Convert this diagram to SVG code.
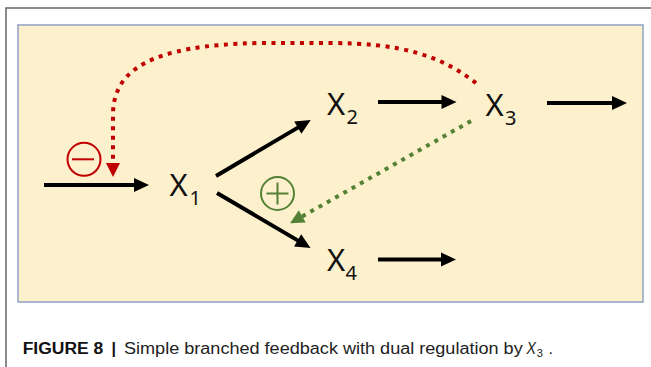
<svg xmlns="http://www.w3.org/2000/svg" width="651" height="367" viewBox="0 0 651 367">
  <style>
    .frame { fill: none; stroke: #666666; stroke-width: 1.5; }
    .panel { fill: #fdf0cc; stroke: #8ea2c2; stroke-width: 1.5; }
    .label { font-family: "Noto Sans", "Open Sans", sans-serif; font-size: 31px; fill: #111111; }
    .sub { font-size: 20px; }
    .flow { fill: none; stroke: #000000; stroke-width: 4; }
    .inhib { fill: none; stroke: #c00000; stroke-width: 4; stroke-dasharray: 4 5.5; }
    .activ { fill: none; stroke: #538135; stroke-width: 4; stroke-dasharray: 4 5.5; }
    .sign-red { fill: none; stroke: #c00000; stroke-width: 2; }
    .sign-green { fill: none; stroke: #538135; stroke-width: 2; }
    .caption { font-family: "Liberation Sans", Arial, sans-serif; font-size: 16px; fill: #222222; }
  </style>
  <defs>
    <marker id="head-black" markerUnits="userSpaceOnUse" viewBox="-4 -8 18 16" markerWidth="18" markerHeight="16" refX="0" refY="0" orient="auto">
      <path d="M-3,-7 L12,0 L-3,7 z" fill="#000000"/>
    </marker>
    <marker id="head-red" markerUnits="userSpaceOnUse" viewBox="-4 -8 18 16" markerWidth="18" markerHeight="16" refX="0" refY="0" orient="auto">
      <path d="M-2,-7 L12,0 L-2,7 z" fill="#c00000"/>
    </marker>
    <marker id="head-green" markerUnits="userSpaceOnUse" viewBox="-4 -8 18 16" markerWidth="18" markerHeight="16" refX="0" refY="0" orient="auto">
      <path d="M-2,-7 L12,0 L-2,7 z" fill="#538135"/>
    </marker>
  </defs>

  <!-- page frame -->
  <path class="frame" d="M6,367 L6,8 L651,8"/>

  <!-- figure panel -->
  <rect class="panel" x="18" y="25" width="625" height="277"/>

  <!-- connectors -->
  <g id="connectors">
    <line class="flow" x1="44" y1="185" x2="137" y2="185" marker-end="url(#head-black)"/>
    <line class="flow" x1="216" y1="176" x2="300.4" y2="126.1" marker-end="url(#head-black)"/>
    <line class="flow" x1="217" y1="193" x2="300.2" y2="241.9" marker-end="url(#head-black)"/>
    <line class="flow" x1="378" y1="102" x2="444.5" y2="102" marker-end="url(#head-black)"/>
    <line class="flow" x1="547" y1="103" x2="615" y2="103" marker-end="url(#head-black)"/>
    <line class="flow" x1="378" y1="259.5" x2="444" y2="259.5" marker-end="url(#head-black)"/>
    <!-- negative feedback from X3 onto the input step -->
    <path class="inhib" d="M476,83 C440,55 400,43 330,43 L260,43 C150,45 113,70 113,115 L113,165" marker-end="url(#head-red)"/>
    <!-- positive regulation from X3 onto the X1 to X4 branch -->
    <line class="activ" x1="471" y1="121" x2="300.5" y2="217.4" marker-end="url(#head-green)"/>
  </g>

  <!-- regulation signs -->
  <g id="minus-sign">
    <circle class="sign-red" cx="84" cy="159.3" r="16.5"/>
    <line class="sign-red" x1="72" y1="159.3" x2="94" y2="159.3"/>
  </g>
  <g id="plus-sign">
    <circle class="sign-green" cx="277.5" cy="193.5" r="16.5"/>
    <line class="sign-green" x1="266.5" y1="193.5" x2="288.5" y2="193.5"/>
    <line class="sign-green" x1="277.5" y1="182.5" x2="277.5" y2="204.5"/>
  </g>

  <!-- species -->
  <g id="X1">
    <text class="label" x="169.5" y="196">X<tspan class="sub" x="189.5" y="205">1</tspan></text>
  </g>
  <g id="X2">
    <text class="label" x="327" y="115">X<tspan class="sub" x="346.5" y="123.5">2</tspan></text>
  </g>
  <g id="X3">
    <text class="label" x="485.5" y="116">X<tspan class="sub" x="505" y="124.5">3</tspan></text>
  </g>
  <g id="X4">
    <text class="label" x="327" y="271">X<tspan class="sub" x="345.5" y="280">4</tspan></text>
  </g>

  <!-- caption -->
  <text class="caption" y="354">
    <tspan x="22.7" font-weight="bold" fill="#111111" textLength="80.6" lengthAdjust="spacingAndGlyphs">FIGURE 8</tspan>
    <tspan x="111.5" font-weight="bold" fill="#111111">|</tspan>
    <tspan x="124" textLength="398.7" lengthAdjust="spacingAndGlyphs">Simple branched feedback with dual regulation by</tspan>
    <tspan x="526.5" font-style="italic" textLength="9.5" lengthAdjust="spacingAndGlyphs">X</tspan>
    <tspan x="536.7" y="357" font-size="11">3</tspan>
    <tspan x="548.5" y="354">.</tspan>
  </text>
</svg>
